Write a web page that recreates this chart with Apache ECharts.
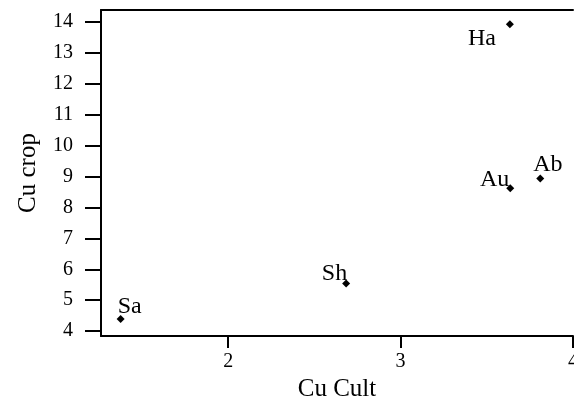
<!DOCTYPE html>
<html><head><meta charset="utf-8">
<script src="https://cdn.jsdelivr.net/npm/echarts@6/dist/echarts.min.js"></script>
<style>html,body{margin:0;padding:0;background:#fff}#c{width:574px;height:403px}</style>
</head><body><div id="c"></div>
<script>
var names = ['Sa', 'Sh', 'Ha', 'Au', 'Ab'];
var cuCult = [1.376, 2.684, 3.634, 3.636, 3.81];
var cuCrop = [4.39, 5.54, 13.93, 8.62, 8.94];
var xTicks = [2, 3, 4];
var yTicks = [4, 5, 6, 7, 8, 9, 10, 11, 12, 13, 14];

var FONT = "'Liberation Serif', 'Times New Roman', serif";
var labelPlace = {
  Sa: {align: 'left', verticalAlign: 'bottom', offset: [-3, 0]},
  Sh: {align: 'right', verticalAlign: 'bottom', offset: [1, 2]},
  Ha: {align: 'right', verticalAlign: 'middle', offset: [-14, 14]},
  Au: {align: 'right', verticalAlign: 'bottom', offset: [-1, 3]},
  Ab: {align: 'left', verticalAlign: 'bottom', offset: [-7, -2]}
};
var data = names.map(function (n, i) {
  var p = labelPlace[n];
  return {
    name: n, value: [cuCult[i], cuCrop[i]],
    label: {show: true, formatter: n, position: 'inside', align: p.align, verticalAlign: p.verticalAlign, offset: p.offset}
  };
});

var chart = echarts.init(document.getElementById('c'));
chart.setOption({
  animation: false,
  backgroundColor: '#fff',
  grid: {left: 101, top: 10, right: 1, bottom: 67, containLabel: false, outerBoundsMode: 'none'},
  xAxis: [{
    type: 'value', min: 1.262, max: 4, position: 'bottom',
    name: 'Cu Cult', nameLocation: 'middle', nameGap: 33,
    nameTextStyle: {fontFamily: FONT, fontSize: 25, color: '#000'},
    axisLine: {show: true, lineStyle: {color: '#000', width: 2}},
    axisTick: {show: true, customValues: xTicks, length: 12, lineStyle: {color: '#000', width: 2}},
    axisLabel: {customValues: xTicks, margin: 16, fontFamily: FONT, fontSize: 20, color: '#000'},
    splitLine: {show: false}
  }, {
    type: 'value', min: 1.262, max: 4, position: 'top',
    axisLine: {show: true, onZero: false, lineStyle: {color: '#000', width: 2}},
    axisTick: {show: false}, axisLabel: {show: false}, splitLine: {show: false}
  }],
  yAxis: {
    type: 'value', min: 3.84, max: 14.39,
    name: 'Cu crop', nameLocation: 'middle', nameGap: 60,
    nameTextStyle: {fontFamily: FONT, fontSize: 25, color: '#000'},
    axisLine: {show: true, lineStyle: {color: '#000', width: 2}},
    axisTick: {show: true, customValues: yTicks, length: 16, lineStyle: {color: '#000', width: 2}},
    axisLabel: {customValues: yTicks, margin: 28, fontFamily: FONT, fontSize: 20, color: '#000'},
    splitLine: {show: false}
  },
  series: [{
    type: 'scatter', symbol: 'diamond', symbolSize: 8,
    itemStyle: {color: '#000', opacity: 1},
    label: {fontFamily: FONT, fontSize: 24, color: '#000'},
    emphasis: {disabled: true},
    data: data
  }]
});
</script></body></html>
